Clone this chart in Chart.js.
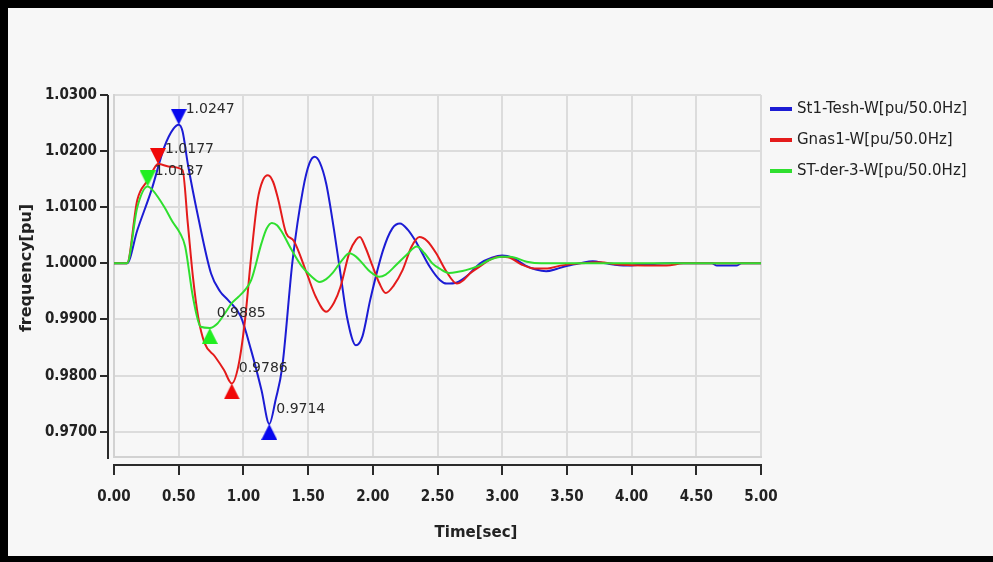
<!DOCTYPE html>
<html>
<head>
<meta charset="utf-8">
<title>Frequency response</title>
<script src="https://cdn.jsdelivr.net/npm/chart.js@4.4.1/dist/chart.umd.min.js"></script>
<style>
  body { margin: 0; background: #000; }
  #frame { position: absolute; left: 8px; top: 8px; width: 985px; height: 548px; background: #f7f7f7; }
</style>
</head>
<body>
<div id="frame"><canvas id="freqChart" width="985" height="548"></canvas></div>
<script>
const seriesNames = ["St1-Tesh-W[pu/50.0Hz]", "Gnas1-W[pu/50.0Hz]", "ST-der-3-W[pu/50.0Hz]"];
const lineColors = ["#1c1cd4", "#e41b1b", "#2fdf2f"];
const markColors = ["#0808ee", "#f00808", "#20ee20"];

const blueTime = [0, 0.10, 0.18, 0.29, 0.39, 0.46, 0.50, 0.53, 0.57, 0.65, 0.75, 0.82, 0.88, 0.98, 1.06, 1.14, 1.20, 1.25, 1.30, 1.38, 1.46, 1.51, 1.55, 1.59, 1.64, 1.70, 1.75, 1.80, 1.87, 1.92, 1.98, 2.08, 2.15, 2.21, 2.27, 2.34, 2.44, 2.52, 2.57, 2.65, 2.72, 2.83, 2.92, 3.00, 3.08, 3.18, 3.26, 3.34, 3.42, 3.49, 3.60, 3.70, 3.80, 3.96, 4.10, 4.30, 4.50, 4.62, 4.66, 4.81, 4.85, 5.00];
const blueFreq = [1.0000, 1.0000, 1.0059, 1.0131, 1.0208, 1.0240, 1.0247, 1.0235, 1.0178, 1.0083, 0.9982, 0.9950, 0.9935, 0.9905, 0.9845, 0.9774, 0.9714, 0.9758, 0.9815, 1.0005, 1.0131, 1.0178, 1.0190, 1.0180, 1.0142, 1.0060, 0.9982, 0.9905, 0.9854, 0.9870, 0.9935, 1.0024, 1.0062, 1.0071, 1.0060, 1.0036, 0.9994, 0.9970, 0.9964, 0.9966, 0.9976, 1.0000, 1.0010, 1.0014, 1.0010, 0.9996, 0.9989, 0.9986, 0.9990, 0.9995, 1.0000, 1.0004, 1.0000, 0.9996, 0.9998, 1.0000, 1.0000, 1.0000, 0.9996, 0.9996, 1.0000, 1.0000];

const redTime = [0, 0.10, 0.18, 0.26, 0.30, 0.34, 0.44, 0.53, 0.57, 0.61, 0.65, 0.70, 0.78, 0.85, 0.91, 0.96, 1.01, 1.06, 1.11, 1.15, 1.19, 1.23, 1.27, 1.33, 1.39, 1.49, 1.56, 1.64, 1.70, 1.75, 1.82, 1.87, 1.90, 1.94, 2.00, 2.05, 2.10, 2.16, 2.23, 2.30, 2.36, 2.42, 2.49, 2.57, 2.65, 2.70, 2.75, 2.83, 2.90, 2.98, 3.06, 3.15, 3.25, 3.35, 3.45, 3.60, 3.75, 3.90, 4.10, 4.27, 4.40, 5.00];
const redFreq = [1.0000, 1.0000, 1.0113, 1.0148, 1.0165, 1.0177, 1.0172, 1.0166, 1.0072, 0.9976, 0.9905, 0.9858, 0.9834, 0.9810, 0.9786, 0.9816, 0.9894, 1.0012, 1.0113, 1.0148, 1.0157, 1.0145, 1.0113, 1.0054, 1.0040, 0.9982, 0.9940, 0.9914, 0.9930, 0.9958, 1.0020, 1.0042, 1.0047, 1.0030, 0.9994, 0.9965, 0.9947, 0.9960, 0.9988, 1.0030, 1.0047, 1.0040, 1.0018, 0.9985, 0.9964, 0.9970, 0.9982, 0.9995, 1.0006, 1.0012, 1.0010, 0.9998, 0.9991, 0.9991, 0.9996, 1.0000, 1.0002, 0.9998, 0.9996, 0.9996, 1.0000, 1.0000];

const greenTime = [0, 0.10, 0.18, 0.26, 0.30, 0.39, 0.45, 0.51, 0.55, 0.61, 0.67, 0.74, 0.80, 0.86, 0.91, 0.96, 1.01, 1.06, 1.14, 1.18, 1.22, 1.26, 1.30, 1.37, 1.45, 1.52, 1.59, 1.64, 1.69, 1.76, 1.82, 1.87, 1.92, 1.98, 2.05, 2.10, 2.18, 2.26, 2.34, 2.40, 2.46, 2.52, 2.59, 2.66, 2.72, 2.83, 2.90, 3.00, 3.06, 3.19, 3.30, 5.00];
const greenFreq = [1.0000, 1.0000, 1.0100, 1.0137, 1.0130, 1.0100, 1.0075, 1.0054, 1.0030, 0.9940, 0.9887, 0.9885, 0.9893, 0.9912, 0.9929, 0.9940, 0.9952, 0.9970, 1.0036, 1.0062, 1.0072, 1.0068, 1.0055, 1.0025, 0.9995, 0.9978, 0.9967, 0.9972, 0.9983, 1.0005, 1.0018, 1.0012, 1.0000, 0.9985, 0.9976, 0.9980, 0.9997, 1.0015, 1.0030, 1.0018, 1.0000, 0.9990, 0.9983, 0.9985, 0.9988, 0.9997, 1.0006, 1.0012, 1.0012, 1.0003, 1.0000, 1.0000];

// max / min markers (time, value)
const blueMarkTime = [0.50, 1.20];
const blueMarkFreq = [1.0247, 0.9714];
const redMarkTime = [0.34, 0.91];
const redMarkFreq = [1.0177, 0.9786];
const greenMarkTime = [0.26, 0.74];
const greenMarkFreq = [1.0137, 0.9885];

const yTickStep = 0.01;
const xTickStep = 0.5;

const tickFont = { family: "'DejaVu Sans Condensed', 'DejaVu Sans', sans-serif", size: 15, weight: "bold" };

function toPoints(times, vals) {
  return times.map((t, i) => ({ x: t, y: vals[i] }));
}

// triangle image with its tip at the centre, so it sits right on the extreme value
function triangle(color, pointsDown) {
  const w = 16, h = 16;
  const c = document.createElement("canvas");
  c.width = w; c.height = h * 2;
  const g = c.getContext("2d");
  g.fillStyle = color;
  g.beginPath();
  if (pointsDown) {
    g.moveTo(0, 0); g.lineTo(w, 0); g.lineTo(w / 2, h);
  } else {
    g.moveTo(w / 2, h); g.lineTo(w, h * 2); g.lineTo(0, h * 2);
  }
  g.closePath();
  g.fill();
  return c;
}

const lineSets = [
  [blueTime, blueFreq, 3],
  [redTime, redFreq, 2],
  [greenTime, greenFreq, 1]
].map(([t, v, order], i) => ({
  label: seriesNames[i],
  data: toPoints(t, v),
  borderColor: lineColors[i],
  borderWidth: 2,
  pointRadius: 0,
  cubicInterpolationMode: "monotone",
  order: order
}));

const markSets = [
  [blueMarkTime, blueMarkFreq],
  [redMarkTime, redMarkFreq],
  [greenMarkTime, greenMarkFreq]
].map(([t, v], i) => ({
  label: seriesNames[i] + " extremes",
  isMarker: true,
  data: toPoints(t, v),
  showLine: false,
  pointStyle: [triangle(markColors[i], true), triangle(markColors[i], false)],
  pointRadius: 8,
  order: 0
}));

const decorations = {
  id: "decorations",
  afterDraw(chart) {
    const { ctx, chartArea: a, scales: { x, y } } = chart;
    ctx.save();

    // offset axis lines with their ticks
    ctx.strokeStyle = "#2b2b2b";
    ctx.lineWidth = 2;
    ctx.beginPath();
    const yLineX = a.left - 6;
    ctx.moveTo(yLineX, a.top);
    ctx.lineTo(yLineX, a.bottom + 2);
    y.ticks.forEach(t => {
      const py = Math.round(y.getPixelForValue(t.value));
      ctx.moveTo(yLineX - 8, py);
      ctx.lineTo(yLineX, py);
    });
    const xLineY = a.bottom + 8;
    ctx.moveTo(a.left - 1, xLineY);
    ctx.lineTo(a.right + 1, xLineY);
    x.ticks.forEach(t => {
      const px = Math.round(x.getPixelForValue(t.value));
      ctx.moveTo(px, xLineY);
      ctx.lineTo(px, xLineY + 10);
    });
    ctx.stroke();

    // axis titles
    ctx.fillStyle = "#222";
    ctx.textAlign = "center";
    ctx.textBaseline = "middle";
    ctx.font = "bold 15px 'DejaVu Sans', sans-serif";
    ctx.fillText("Time[sec]", 468, 525);
    ctx.save();
    ctx.translate(19, 260);
    ctx.rotate(-Math.PI / 2);
    ctx.font = "bold 16px 'DejaVu Sans', sans-serif";
    ctx.fillText("frequency[pu]", 0, 0);
    ctx.restore();

    // value labels next to the markers
    ctx.textAlign = "left";
    ctx.font = "14px 'DejaVu Sans', sans-serif";
    ctx.fillStyle = "#2a2a2a";
    chart.data.datasets.forEach((ds, i) => {
      if (!ds.isMarker) return;
      chart.getDatasetMeta(i).data.forEach((pt, j) => {
        ctx.fillText(ds.data[j].y.toFixed(4), pt.x + 7, pt.y - 15);
      });
    });

    // legend
    ctx.font = "15px 'DejaVu Sans', sans-serif";
    ctx.fillStyle = "#222";
    seriesNames.forEach((name, i) => {
      const ly = 101 + i * 31;
      ctx.fillStyle = lineColors[i];
      ctx.fillRect(762, ly - 2, 22, 4);
      ctx.fillStyle = "#222";
      ctx.fillText(name, 789, ly);
    });

    ctx.restore();
  }
};

new Chart(document.getElementById("freqChart"), {
  type: "line",
  data: { datasets: [...markSets, ...lineSets] },
  options: {
    responsive: false,
    animation: false,
    devicePixelRatio: 1,
    layout: { padding: { top: 87, right: 232, left: 0, bottom: 0 } },
    plugins: { legend: { display: false }, tooltip: { enabled: false } },
    scales: {
      x: {
        type: "linear",
        min: 0,
        max: 5,
        ticks: { stepSize: xTickStep, padding: 31, color: "#222", font: tickFont, callback: v => v.toFixed(2), maxRotation: 0 },
        grid: { color: "#dcdcdc", lineWidth: 2, drawTicks: false },
        border: { color: "#d2d2d2", width: 2 },
        afterFit: s => { s.height = 99; }
      },
      y: {
        min: 0.9655,
        max: 1.03,
        ticks: { stepSize: yTickStep, includeBounds: false, padding: 17, color: "#222", font: tickFont, callback: v => v.toFixed(4) },
        grid: { color: "#dcdcdc", lineWidth: 2, drawTicks: false },
        border: { color: "#d2d2d2", width: 2 },
        afterFit: s => { s.width = 106; }
      }
    }
  },
  plugins: [decorations]
});
</script>
</body>
</html>
